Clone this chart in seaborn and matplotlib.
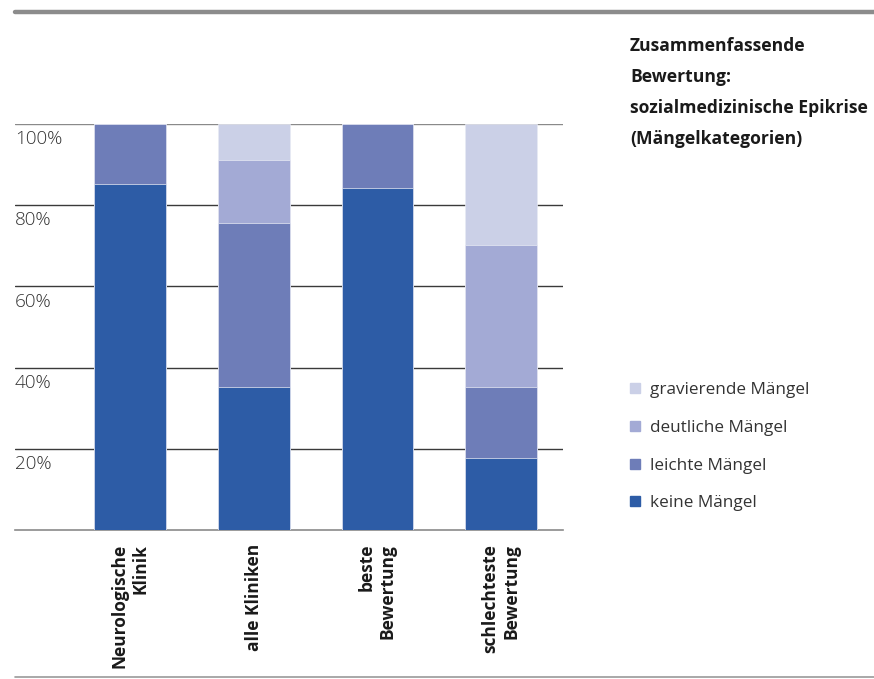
import numpy as np
import pandas as pd
import matplotlib
matplotlib.use("Agg")
import matplotlib.pyplot as plt
from matplotlib.lines import Line2D
import seaborn as sns

# --- data ---
kliniken = ["Neurologische\nKlinik", "alle Kliniken", "beste\nBewertung", "schlechteste\nBewertung"]
kategorien = ["keine Mängel", "leichte Mängel", "deutliche Mängel", "gravierende Mängel"]
keine = [85.1, 35.2, 84.3, 17.7]
leichte = [14.9, 40.3, 15.7, 17.5]
deutliche = [0.0, 15.7, 0.0, 35.1]
gravierende = [0.0, 8.8, 0.0, 29.7]
farben = ["#2d5ca6", "#6e7db8", "#a3aad5", "#cbd0e7"]
yticks = [20, 40, 60, 80, 100]

sns.set_theme(style="white")
plt.rcParams["font.family"] = ["Open Sans", "DejaVu Sans"]

df = pd.DataFrame({"klinik": kliniken, kategorien[0]: keine, kategorien[1]: leichte,
                   kategorien[2]: deutliche, kategorien[3]: gravierende})
kum = df[kategorien].cumsum(axis=1)

fig = plt.figure(figsize=(8.74, 6.79), dpi=100)
ax = fig.add_axes([15 / 874, 149 / 679, 548 / 874, 406 / 679])

# stacked bars: draw the largest cumulative first, then overlay smaller ones
for kat, col in zip(reversed(kategorien), reversed(farben)):
    sns.barplot(data=kum.assign(klinik=kliniken), x="klinik", y=kat, order=kliniken,
                color=col, width=0.58, saturation=1, edgecolor="#e8eaf4", linewidth=0.5,
                ax=ax, zorder=3)

ax.set_xlim(-0.93, 3.5)
ax.set_ylim(0, 100)
ax.set_xlabel("")
ax.set_ylabel("")
for s in ["top", "right", "left"]:
    ax.spines[s].set_visible(False)
ax.spines["bottom"].set_color("#8a8a8a")
ax.spines["bottom"].set_linewidth(1.2)

ax.set_yticks(yticks)
ax.set_yticklabels([])
ax.tick_params(axis="y", length=0)
for y in yticks:
    ax.axhline(y, color="#8a8a8a" if y == 100 else "#3a3a3a", lw=1.0, zorder=1)
    ax.annotate(f"{y}%", xy=(0, y), xycoords=ax.get_yaxis_transform(),
                xytext=(0, -4.5), textcoords="offset points", ha="left", va="top",
                fontsize=13.6, color="#333333", fontweight="light")

ax.set_xticks(range(len(kliniken)))
ax.set_xticklabels(kliniken, rotation=90, fontsize=12.5, fontweight="bold",
                   color="#1a1a1a", ha="center", va="top", multialignment="right")
ax.tick_params(axis="x", length=0, pad=10)

# title on the right
fig.text(630 / 874, 1 - 37 / 679,
         "Zusammenfassende\nBewertung:\nsozialmedizinische Epikrise\n(Mängelkategorien)",
         ha="left", va="top", fontsize=12.6, fontweight="bold", color="#1a1a1a",
         linespacing=1.92)

# legend
handles = [Line2D([], [], marker="s", linestyle="", markersize=7.5, color=c)
           for c in reversed(farben)]
fig.legend(handles, list(reversed(kategorien)), loc="upper left",
           bbox_to_anchor=(611 / 874, 1 - 367 / 679), frameon=False,
           fontsize=12.3, labelspacing=1.27, handletextpad=0.4, handlelength=1.0,
           labelcolor="#333333")

# decorative rules at top and bottom
fig.add_artist(Line2D([15 / 874, 1], [1 - 12 / 679, 1 - 12 / 679],
                      color="#8c8c8c", lw=3.2))
fig.add_artist(Line2D([15 / 874, 1], [1 - 677 / 679, 1 - 677 / 679],
                      color="#9a9a9a", lw=1.2))

fig.savefig("out.png", dpi=100)
